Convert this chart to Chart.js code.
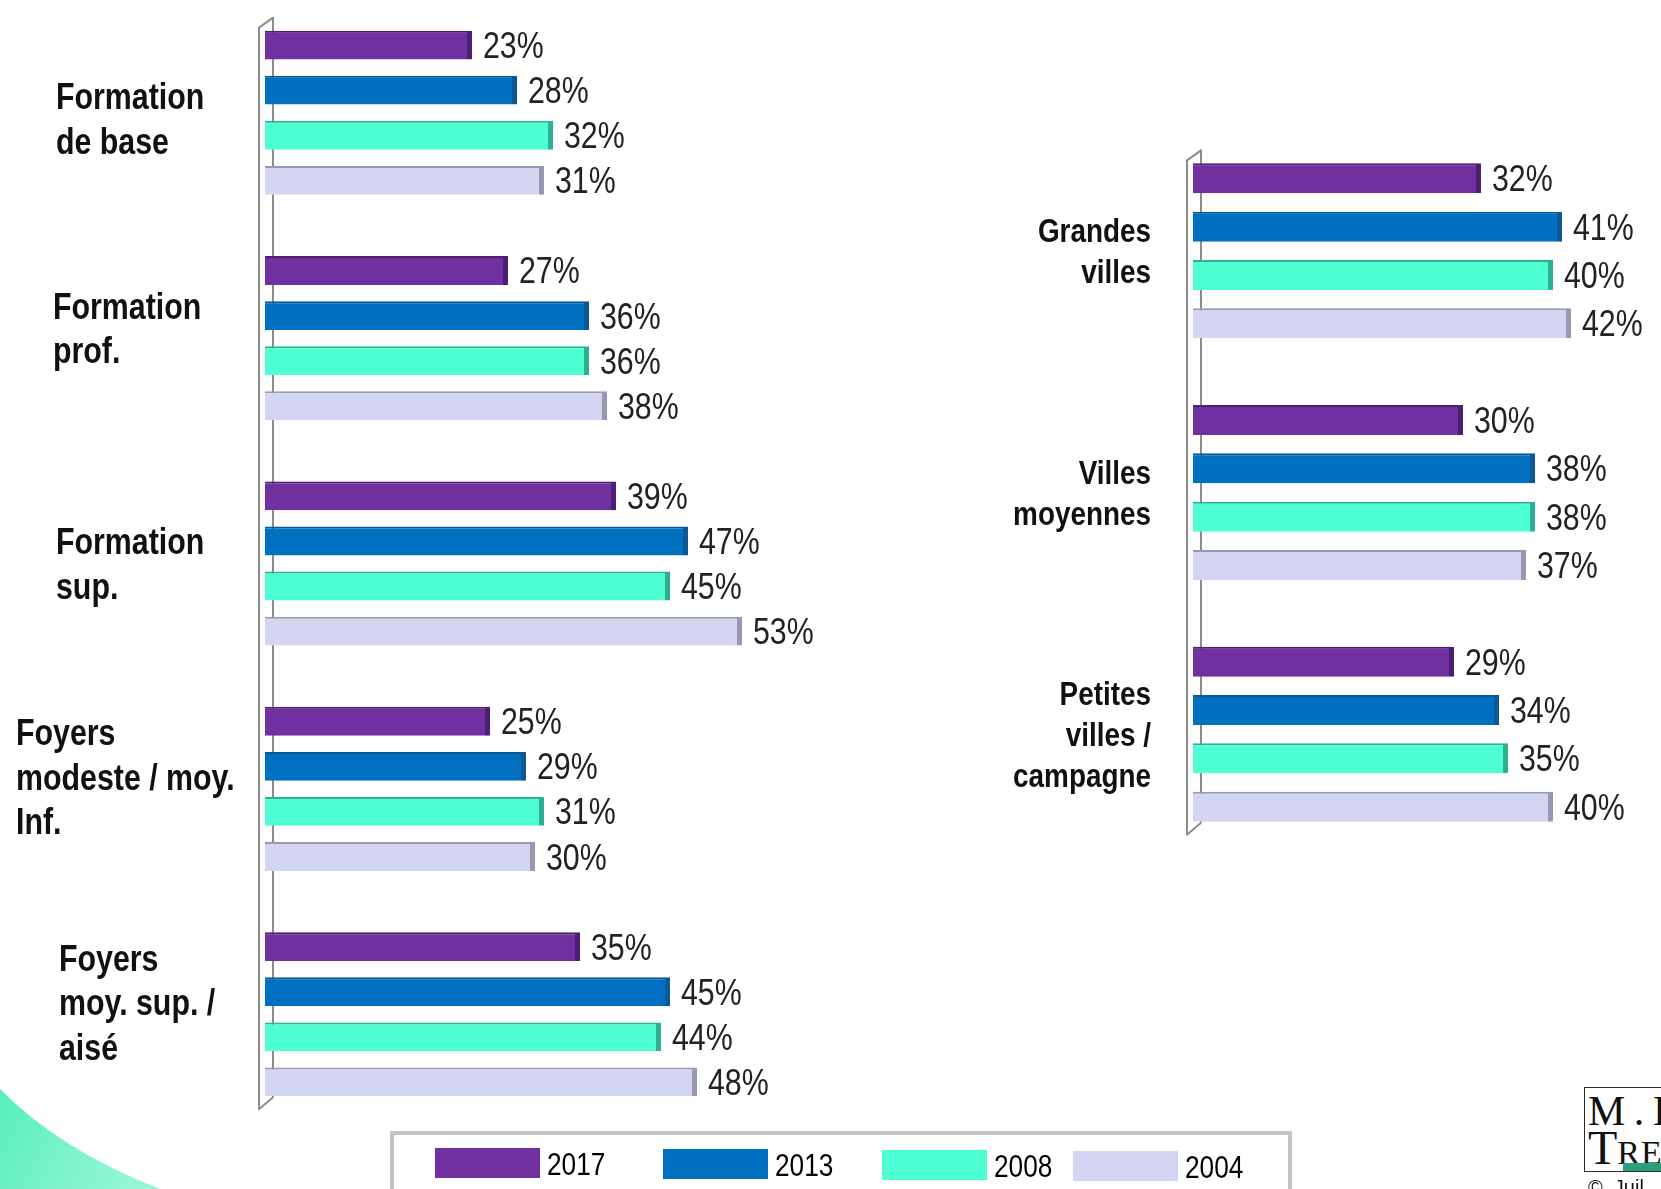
<!DOCTYPE html>
<html lang="fr">
<head>
<meta charset="utf-8">
<title>Équipement selon la formation, les revenus et la taille d'agglomération</title>
<script src="https://cdn.jsdelivr.net/npm/chart.js@4.4.1/dist/chart.umd.min.js"></script>
<style>
  html, body { margin: 0; padding: 0; background: #fff; }
  #stage { position: relative; width: 1661px; height: 1189px; overflow: hidden; background: #fff; }
  #stage canvas { position: absolute; left: 0; top: 0; }
  #corner { position: absolute; left: 0; top: 1069px; }
  #logo { position: absolute; left: 1584px; top: 1087px; width: 130px; height: 85px;
          box-sizing: border-box; border: 1.5px solid #2a2a2a; background: #fff; overflow: hidden;
          font-family: "Liberation Serif", serif; color: #111; }
  #logo .m { position: absolute; left: 3px; top: 2px; font-size: 42px; line-height: 1; letter-spacing: 0; word-spacing: -2px; white-space: nowrap; }
  #logo .t { position: absolute; left: 3px; top: 36px; font-size: 34px; line-height: 1; white-space: nowrap; letter-spacing: 1px; }
  #logo .t .big { font-size: 48px; letter-spacing: 0; }
  #logo .bar { position: absolute; left: 38px; top: 75px; width: 120px; height: 9px; background: #2b9e80; }
  #copy { position: absolute; left: 1588px; top: 1176px; font: 20px "Liberation Sans", sans-serif; color: #111; white-space: nowrap; }
</style>
</head>
<body>
<div id="stage">
  <svg id="corner" width="200" height="120" viewBox="0 0 200 120">
    <defs>
      <linearGradient id="cornerFill" x1="0" y1="0" x2="1" y2="0.3">
        <stop offset="0" stop-color="#58efbd"/>
        <stop offset="1" stop-color="#95f5d7"/>
      </linearGradient>
    </defs>
    <path d="M0,20 Q60,81 160,120 L0,120 Z" fill="url(#cornerFill)"/>
  </svg>
  <canvas id="left" width="1661" height="1189"></canvas>
  <canvas id="right" width="1661" height="1189"></canvas>
  <div id="logo">
    <div class="m">M . I</div>
    <div class="t"><span class="big">T</span>RE</div>
    <div class="bar"></div>
  </div>
  <div id="copy">©&nbsp;&nbsp;Juil</div>
</div>
<script>
// ---- data ----
const years = ['2017', '2013', '2008', '2004'];

const leftCategories = [
  ['Formation', 'de base'],
  ['Formation', 'prof.'],
  ['Formation', 'sup.'],
  ['Foyers', 'modeste / moy.', 'Inf.'],
  ['Foyers', 'moy. sup. /', 'aisé']
];
const left2017 = [23, 27, 39, 25, 35];
const left2013 = [28, 36, 47, 29, 45];
const left2008 = [32, 36, 45, 31, 44];
const left2004 = [31, 38, 53, 30, 48];

const rightCategories = [
  ['Grandes', 'villes'],
  ['Villes', 'moyennes'],
  ['Petites', 'villes /', 'campagne']
];
const right2017 = [32, 30, 29];
const right2013 = [41, 38, 34];
const right2008 = [40, 38, 35];
const right2004 = [42, 37, 40];

// ---- layout & styles ----
const fillColors = ['#7030A0', '#0070C0', '#4DFFD2', '#D4D5F2'];
const edgeColors = ['#4C1F72', '#0A5896', '#2DB092', '#9899B0'];
// text-box placement of the left-hand category names (left edge, vertical nudge)
const leftLabelX = [56, 53, 56, 16, 59];
const leftLabelNudge = [6, -10, 0, -12, -12];
// legend swatch left edges
const legendX = [435, 663, 882, 1073];

// Narrow face if installed, otherwise a horizontally squeezed Liberation Sans
function fontInstalled(name) {
  const c = document.createElement('canvas').getContext('2d');
  const probe = 'Formation 0123456789%';
  c.font = '72px monospace';
  const a = c.measureText(probe).width;
  c.font = '72px "' + name + '", monospace';
  return c.measureText(probe).width !== a;
}
const HAS_NARROW = fontInstalled('Liberation Sans Narrow');
const FAMILY = HAS_NARROW ? '"Liberation Sans Narrow", sans-serif' : '"Liberation Sans", sans-serif';
const SQUEEZE = HAS_NARROW ? 1 : 0.82;

function drawText(ctx, str, x, y, size, weight, align, color) {
  ctx.save();
  ctx.font = weight + ' ' + size + 'px ' + FAMILY;
  ctx.fillStyle = color;
  ctx.textBaseline = 'alphabetic';
  ctx.textAlign = align;
  ctx.translate(x, y);
  ctx.scale(SQUEEZE, 1);
  ctx.fillText(str, 0, 0);
  ctx.restore();
}

// 3D-looking wall along the value origin
const wallPlugin = {
  id: 'wall',
  beforeDatasetsDraw(chart) {
    const ctx = chart.ctx;
    const firstMeta = chart.getDatasetMeta(0);
    const lastMeta = chart.getDatasetMeta(chart.data.datasets.length - 1);
    const first = firstMeta.data[0].getProps(['y', 'height'], true);
    const last = lastMeta.data[lastMeta.data.length - 1].getProps(['y', 'height'], true);
    const x0 = chart.scales.x.getPixelForValue(0);
    const top = first.y - first.height / 2;
    const bottom = last.y + last.height / 2;
    const fx = x0 - 6, bx = x0 + 8;
    ctx.save();
    ctx.strokeStyle = '#8c8c8c';
    ctx.lineWidth = 2;
    ctx.lineJoin = 'round';
    ctx.beginPath();
    ctx.moveTo(bx, bottom + 1);
    ctx.lineTo(bx, top - 13);
    ctx.lineTo(fx, top - 3);
    ctx.lineTo(fx, bottom + 13);
    ctx.lineTo(bx, bottom + 1);
    ctx.stroke();
    ctx.restore();
  }
};

// "NN%" after each bar
const valueLabelPlugin = {
  id: 'valueLabels',
  afterDatasetsDraw(chart) {
    const ctx = chart.ctx;
    chart.data.datasets.forEach((ds, i) => {
      chart.getDatasetMeta(i).data.forEach((bar, j) => {
        const p = bar.getProps(['x', 'y'], true);
        drawText(ctx, ds.data[j] + '%', p.x + 11, p.y + 13, 37, 'normal', 'left', '#222');
      });
    });
  }
};

// Multi-line category names beside each group
function categoryLabelPlugin(cfg) {
  return {
    id: 'categoryLabels',
    afterDraw(chart) {
      const ctx = chart.ctx;
      const yScale = chart.scales.y;
      const cap = Math.round(cfg.size * 0.36);
      chart.data.labels.forEach((lines, i) => {
        const cy = yScale.getPixelForValue(i) + (cfg.nudge ? cfg.nudge[i] : 0);
        const firstBase = cy - (lines.length - 1) / 2 * cfg.lineHeight + cap;
        const x = Array.isArray(cfg.x) ? cfg.x[i] : cfg.x;
        lines.forEach((line, k) => {
          drawText(ctx, line, x, firstBase + k * cfg.lineHeight, cfg.size, 'bold', cfg.align, '#111');
        });
      });
    }
  };
}

// Boxed legend below both panels
const legendBoxPlugin = {
  id: 'legendBox',
  afterDraw(chart) {
    const ctx = chart.ctx;
    ctx.save();
    ctx.strokeStyle = '#c4c4c4';
    ctx.lineWidth = 4;
    ctx.strokeRect(392, 1133, 898, 80);
    ctx.restore();
    chart.data.datasets.forEach((ds, i) => {
      const sx = legendX[i];
      ctx.fillStyle = ds.backgroundColor;
      ctx.fillRect(sx, 1148 + i, 105, 30);
      drawText(ctx, ds.label, sx + 112, 1175 + i, 32, 'normal', 'left', '#000');
    });
  }
};

function buildDatasets(series) {
  return series.map((values, i) => ({
    label: years[i],
    data: values,
    backgroundColor: fillColors[i],
    borderColor: edgeColors[i],
    borderWidth: { top: 2, right: 5, bottom: 0, left: 0 },
    borderSkipped: 'start'
  }));
}

function baseOptions(padding, max, barPct) {
  return {
    indexAxis: 'y',
    responsive: false,
    animation: false,
    events: [],
    layout: { padding },
    datasets: { bar: { categoryPercentage: 0.8, barPercentage: barPct } },
    scales: {
      x: { type: 'linear', min: 0, max, display: false },
      y: { type: 'category', display: false }
    },
    plugins: { legend: { display: false }, tooltip: { enabled: false } }
  };
}

new Chart(document.getElementById('left'), {
  type: 'bar',
  data: {
    labels: leftCategories,
    datasets: buildDatasets([left2017, left2013, left2008, left2004])
  },
  options: baseOptions({ left: 265, right: 856, top: 0, bottom: 62 }, 60, 0.64),
  plugins: [wallPlugin, valueLabelPlugin,
            categoryLabelPlugin({ align: 'left', x: leftLabelX, nudge: leftLabelNudge, size: 37, lineHeight: 44.5 }),
            legendBoxPlugin]
});

new Chart(document.getElementById('right'), {
  type: 'bar',
  data: {
    labels: rightCategories,
    datasets: buildDatasets([right2017, right2013, right2008, right2004])
  },
  options: baseOptions({ left: 1193, right: 63, top: 130, bottom: 334 }, 45, 0.62),
  plugins: [wallPlugin, valueLabelPlugin,
            categoryLabelPlugin({ align: 'right', x: 1151, size: 34, lineHeight: 41 })]
});
</script>
</body>
</html>
